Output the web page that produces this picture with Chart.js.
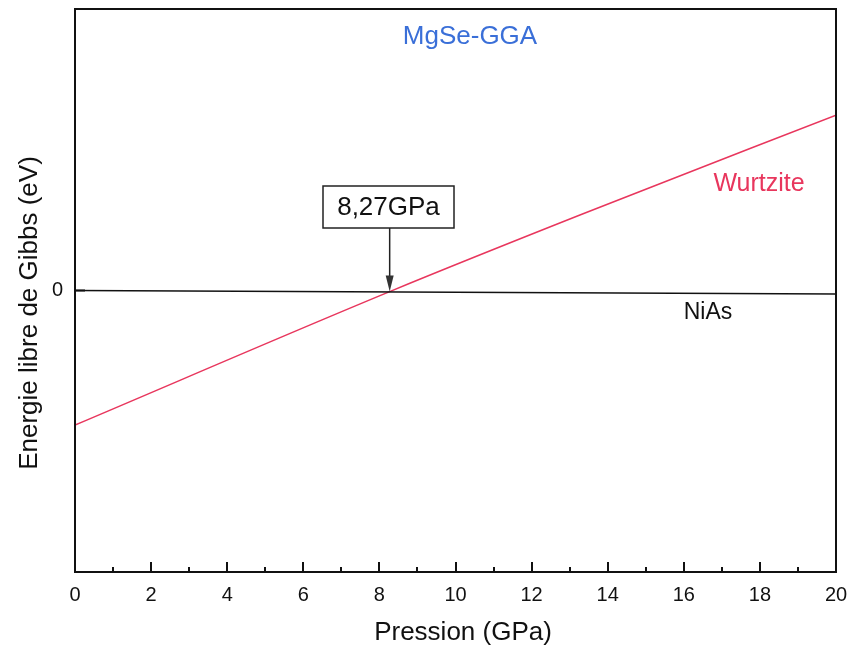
<!DOCTYPE html>
<html><head><meta charset="utf-8">
<script src="https://cdn.jsdelivr.net/npm/chart.js@4.4.1/dist/chart.umd.min.js"></script>
<style>html,body{margin:0;padding:0;background:#fff}#wrap{width:851px;height:654px;position:relative}</style>
</head><body><div id="wrap"><canvas id="c" width="851" height="654"></canvas></div>
<script>
const pressureWurtzite = [0, 8.27, 13.27, 20];
const energyWurtzite = [-0.478, -0.004, 0.268, 0.623];
const pressureNiAs = [0, 20];
const energyNiAs = [0, -0.012];
const transitionPressure = 8.27;
const transitionLabel = '8,27GPa';
const yTickLabels = {0: '0'};

const FONT = '"Liberation Sans", Arial, sans-serif';
const RED = '#e8365d';

const toPts = (xs, ys) => xs.map((x, i) => ({x, y: ys[i]}));

const decor = {
  id: 'decor',
  afterDraw(chart) {
    const ctx = chart.ctx, xs = chart.scales.x, ys = chart.scales.y, a = chart.chartArea;
    ctx.save();
    // frame
    ctx.strokeStyle = '#111'; ctx.lineWidth = 2;
    ctx.strokeRect(a.left, a.top, a.right - a.left, a.bottom - a.top);
    // x ticks inward
    for (let v = 0; v <= 20; v += 1) {
      const px = Math.round(xs.getPixelForValue(v));
      const len = v % 2 === 0 ? 10 : 5;
      ctx.beginPath(); ctx.moveTo(px, a.bottom); ctx.lineTo(px, a.bottom - len); ctx.stroke();
    }
    // y tick at 0
    const y0 = ys.getPixelForValue(0);
    ctx.beginPath(); ctx.moveTo(a.left, y0); ctx.lineTo(a.left + 10, y0); ctx.stroke();
    // texts
    ctx.textAlign = 'center'; ctx.textBaseline = 'middle';
    ctx.font = '26px ' + FONT;
    ctx.fillStyle = '#3a6fd8';
    ctx.fillText('MgSe-GGA', 470, 37);
    ctx.fillStyle = RED; ctx.font = '25px ' + FONT;
    ctx.fillText('Wurtzite', 759, 184);
    ctx.fillStyle = '#111'; ctx.font = '23px ' + FONT;
    ctx.fillText('NiAs', 708, 313);
    // label box + arrow
    const ax = xs.getPixelForValue(transitionPressure);
    const boxL = 323, boxR = 454, boxT = 186, boxB = 228;
    ctx.fillStyle = '#fff'; ctx.fillRect(boxL, boxT, boxR - boxL, boxB - boxT);
    ctx.lineWidth = 1.5; ctx.strokeStyle = '#222';
    ctx.strokeRect(boxL, boxT, boxR - boxL, boxB - boxT);
    ctx.fillStyle = '#111'; ctx.font = '26px ' + FONT;
    ctx.fillText(transitionLabel, (boxL + boxR) / 2, (boxT + boxB) / 2 + 1);
    const tipY = ys.getPixelForValue(0) + 1;
    ctx.beginPath(); ctx.moveTo(ax, boxB); ctx.lineTo(ax, tipY - 12); ctx.stroke();
    ctx.fillStyle = '#333';
    ctx.beginPath(); ctx.moveTo(ax - 4, tipY - 16); ctx.lineTo(ax + 4, tipY - 16); ctx.lineTo(ax, tipY); ctx.closePath(); ctx.fill();
    // axis titles
    ctx.fillStyle = '#111'; ctx.font = '26px ' + FONT;
    ctx.fillText('Pression (GPa)', 463, 633);
    ctx.save(); ctx.translate(30, 313); ctx.rotate(-Math.PI / 2);
    ctx.fillText('Energie libre de Gibbs (eV)', 0, 0);
    ctx.restore();
    ctx.restore();
  }
};

new Chart(document.getElementById('c'), {
  type: 'scatter',
  data: {
    datasets: [
      {label: 'NiAs', data: toPts(pressureNiAs, energyNiAs), showLine: true, borderColor: '#111', borderWidth: 1.5, pointRadius: 0, tension: 0},
      {label: 'Wurtzite', data: toPts(pressureWurtzite, energyWurtzite), showLine: true, borderColor: RED, borderWidth: 1.5, pointRadius: 0, cubicInterpolationMode: 'monotone'}
    ]
  },
  options: {
    responsive: false, animation: false, devicePixelRatio: 1,
    layout: {padding: {left: 0, right: 15, top: 9, bottom: 0}},
    plugins: {legend: {display: false}, tooltip: {enabled: false}},
    scales: {
      x: {
        type: 'linear', min: 0, max: 20,
        grid: {display: false, drawTicks: false}, border: {display: false},
        ticks: {stepSize: 2, padding: 11, color: '#111', font: {family: FONT, size: 20}, maxRotation: 0},
        afterFit(s) { s.height = 82; s.paddingLeft = 0; s.paddingRight = 0; }
      },
      y: {
        type: 'linear', min: -1, max: 1,
        grid: {display: false, drawTicks: false}, border: {display: false},
        ticks: {stepSize: 1, padding: 12, color: '#111', font: {family: FONT, size: 20},
          callback: v => (yTickLabels[v] !== undefined ? yTickLabels[v] : '')},
        afterFit(s) { s.width = 75; s.paddingTop = 0; s.paddingBottom = 0; }
      }
    }
  },
  plugins: [decor]
});
</script></body></html>
